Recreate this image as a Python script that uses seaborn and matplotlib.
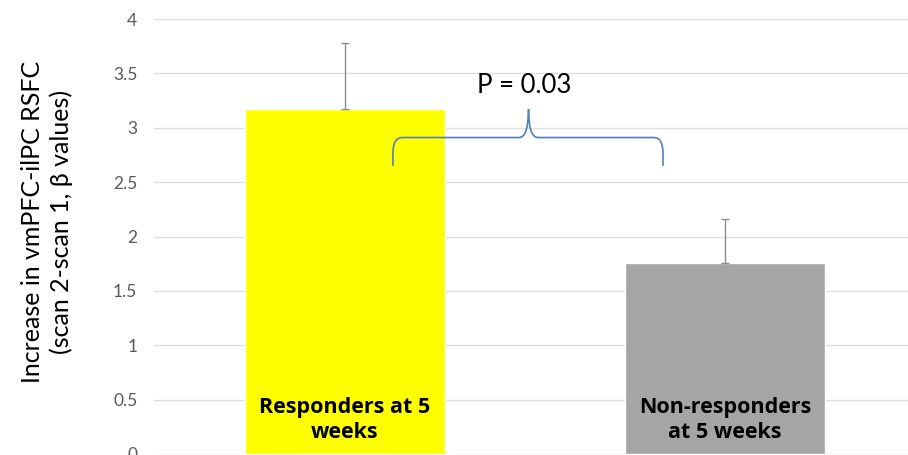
import matplotlib
matplotlib.use('Agg')
import matplotlib.pyplot as plt
import seaborn as sns
from matplotlib.path import Path
from matplotlib.patches import PathPatch

# data
groups = ['Responders at 5\nweeks', 'Non-responders\nat 5 weeks']
means = [3.17, 1.76]
err_up = [0.61, 0.40]
bar_colors = ['#ffff00', '#a5a5a5']
p_label = 'P = 0.03'
y_ticks = [0, 0.5, 1, 1.5, 2, 2.5, 3, 3.5, 4]

sns.set_theme(style='white')
plt.rcParams['font.family'] = ['Lato', 'DejaVu Sans']

fig = plt.figure(figsize=(9.08, 4.55), dpi=100)
ax = fig.add_axes([154 / 908, 1 / 455, 1 - 154 / 908, 435 / 455])

sns.barplot(x=list(range(len(groups))), y=means, hue=list(range(len(groups))),
            palette=bar_colors, legend=False, width=0.526, saturation=1,
            ax=ax, native_scale=True)
ax.errorbar(range(len(groups)), means, yerr=[[0] * len(groups), err_up],
            fmt='none', ecolor='#8c8c8c', elinewidth=1.0, capsize=2.6, capthick=1.0)

ax.set_xlim(-0.503, 1.482)
ax.set_ylim(0, 4)
ax.set_yticks(y_ticks)
ax.set_yticklabels([('%g' % t) for t in y_ticks], color='#595959', fontsize=12.5)
ax.set_xticks([])
ax.tick_params(axis='y', length=0, pad=12)
ax.grid(axis='y', color='#dedede', linewidth=1)
ax.set_axisbelow(True)
for s in ax.spines.values():
    s.set_visible(False)

# labels inside the bars
for i, g in enumerate(groups):
    ax.text(i, 0.31, g, ha='center', va='center', fontsize=15.5, fontweight='bold',
            family=['Open Sans', 'DejaVu Sans'], color='black', linespacing=1.25)

# curly brace between the bars
def brace(x0, x1, xm, yb, yh, yt):
    dx = 0.025
    dy = 0.14
    verts = [(x0, yb), (x0, yh - dy), (x0, yh), (x0 + dx, yh),
             (xm - dx, yh), (xm, yh), (xm, yt),
             (xm, yh), (xm + dx, yh),
             (x1 - dx, yh), (x1, yh), (x1, yh - dy), (x1, yb)]
    codes = [Path.MOVETO, Path.LINETO, Path.CURVE3, Path.CURVE3,
             Path.LINETO, Path.CURVE3, Path.CURVE3,
             Path.CURVE3, Path.CURVE3,
             Path.LINETO, Path.CURVE3, Path.CURVE3, Path.LINETO]
    return PathPatch(Path(verts, codes), fill=False, edgecolor='#4f7fbe', linewidth=1.2)

ax.add_patch(brace(0.126, 0.837, 0.483, 2.65, 2.91, 3.17))
ax.text(0.471, 3.39, p_label, ha='center', va='center', fontsize=18.5, color='black')

fig.text(47 / 908, 1 - 222 / 455, 'Increase in vmPFC-ilPC RSFC\n(scan 2-scan 1, β values)',
         rotation=90, ha='center', va='center', fontsize=18, color='black',
         multialignment='center', linespacing=1.25)

fig.savefig('out.png', dpi=100)
